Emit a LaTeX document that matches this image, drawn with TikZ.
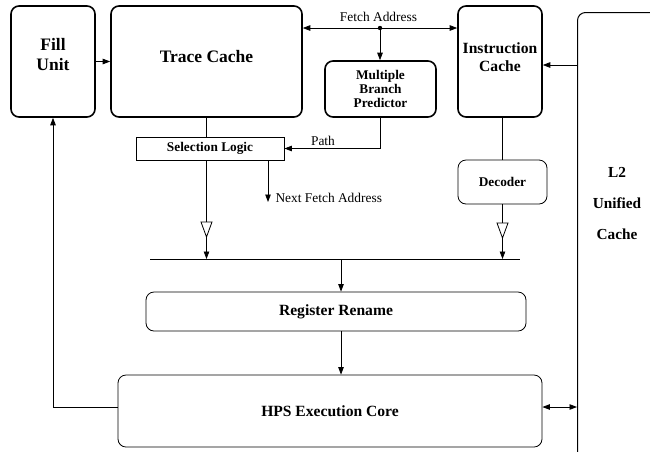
\documentclass[tikz,border=0pt]{standalone}
\usepackage{fontspec}
\setmainfont{Liberation Serif}
\usetikzlibrary{arrows.meta}
\begin{document}
\begin{tikzpicture}[x=1pt,y=-1pt,
  unit/.style={draw,line width=1.6pt,rounded corners=8pt,inner sep=0pt},
  stage/.style={draw,line width=0.8pt,rounded corners=8pt,inner sep=0pt},
  big/.style={font=\fontsize{17.5}{20}\selectfont\bfseries,align=center},
  mid/.style={font=\fontsize{15.6}{18}\selectfont\bfseries,align=center},
  small/.style={font=\fontsize{13.3}{14}\selectfont\bfseries,align=center},
  note/.style={font=\fontsize{13.4}{15}\selectfont},
  wire/.style={line width=0.8pt},
  arr/.style={wire,-{Triangle[length=7.5pt,width=5.5pt]}},
  arrs/.style={wire,{Triangle[length=7.5pt,width=5.5pt]}-{Triangle[length=7.5pt,width=5.5pt]}},
  buffer/.pic={\draw[wire,fill=white] (-5.5,-7) -- (5.5,-7) -- (0,8) -- cycle;}]
  \useasboundingbox (0,0) rectangle (650,451);
  % front end
  \node[unit,minimum width=84pt,minimum height=111pt,
    label={[big,yshift=6.5pt]center:{Fill\\Unit}}] (fu) at (53,61.5) {};
  \node[unit,minimum width=191pt,minimum height=111pt,
    label={[big,yshift=4.5pt]center:Trace Cache}] (tc) at (206.5,61.5) {};
  \node[unit,minimum width=111pt,minimum height=56pt,small] (mbp) at (380.5,89) {Multiple\\Branch\\Predictor};
  \node[unit,minimum width=84pt,minimum height=111pt,
    label={[mid,yshift=4pt]center:{Instruction\\Cache}}] (ic) at (500,61.5) {};
  \node[draw,line width=0.8pt,inner sep=0pt,minimum width=148pt,minimum height=23pt,small] (sel) at (210,148.5) {Selection Logic};
  \node[stage,minimum width=89pt,minimum height=44pt,small] (dec) at (502.5,182) {Decoder};
  % back end
  \node[stage,minimum width=380pt,minimum height=39pt,mid] (rr) at (336,311.5) {Register Rename};
  \node[stage,minimum width=424pt,minimum height=72pt,mid] (hps) at (330,411) {HPS Execution Core};
  \begin{scope}
    \clip (0,0) rectangle (650,451);
    \node[stage,line width=1pt,minimum width=150pt,minimum height=500pt,anchor=north west] (l2) at (577,12) {};
  \end{scope}
  \node[mid,font=\fontsize{15.3}{31}\selectfont\bfseries] (l2txt) at (617,203.5) {L2\\Unified\\Cache};
  \coordinate (fa) at (380,28);
  \coordinate (l2in) at (577,65);
  \coordinate (fb) at (577,407);
  \coordinate (nf) at (268,202);
  \coordinate (bl) at (150,259);
  \coordinate (br) at (520,259);
  \coordinate (bm) at (341,259);
  % connections
  \draw[arr] (fu.east) -- (tc.west);
  \draw[arrs] (tc.east |- fa) -- (ic.west |- fa);
  \fill (fa) circle (2.2pt);
  \draw[arr] (fa) -- (fa |- mbp.north);
  \node[note] (fatxt) at (378.5,16.5) {Fetch Address};
  \draw[arr] (l2in) -- (ic.east |- l2in);
  \draw[wire] (tc.south) -- (tc.south |- sel.north);
  \draw[arr] (mbp.south) |- (sel.east);
  \node[note] (pathtxt) at (323,141) {Path};
  \draw[arr] (nf |- sel.south) -- (nf);
  \node[note,anchor=west] (nftxt) at (272,198) {Next Fetch Address};
  \draw[wire] (dec.north |- ic.south) -- (dec.north);
  \draw[wire] (bl) -- (br);
  \draw[arr] (tc.south |- sel.south) -- (tc.south |- bl);
  \pic at (tc.south |- 0,229) {buffer};
  \draw[arr] (dec.south) -- (dec.south |- bl);
  \pic at (dec.south |- 0,230) {buffer};
  \draw[arr] (bm) -- (bm |- rr.north);
  \draw[arr] (bm |- rr.south) -- (bm |- hps.north);
  \draw[arr] (hps.west |- fb) -| (fu.south);
  \draw[arrs] (hps.east |- fb) -- (fb);
\end{tikzpicture}
\end{document}
